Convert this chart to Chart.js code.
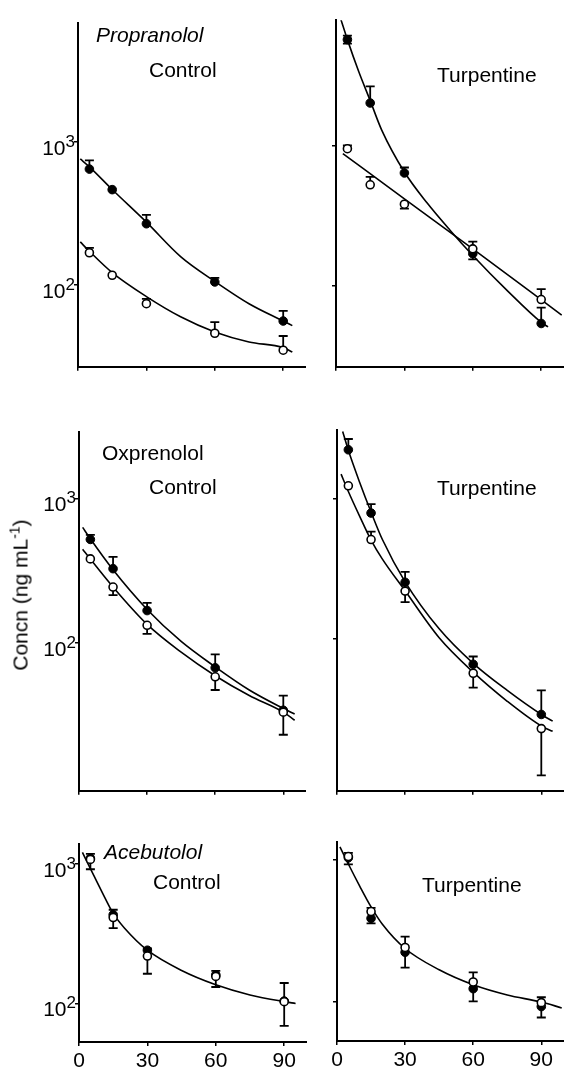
<!DOCTYPE html>
<html>
<head>
<meta charset="utf-8">
<script src="https://cdn.jsdelivr.net/npm/chart.js@4.4.0/dist/chart.umd.min.js"></script>
<style>
    body { margin: 0; background: #fff; }
    #fig { position: relative; width: 564px; height: 1067px; overflow: hidden;
           font-family: "Liberation Sans", Arial, sans-serif; color: #000; }
    #fig canvas { position: absolute; }
    .lab { position: absolute; font-size: 21px; line-height: 21px; white-space: nowrap; }
    .it { font-style: italic; }
    #ytitle { position: absolute; left: 20px; top: 595px; font-size: 21px; line-height: 21px;
              white-space: nowrap; transform: translate(-50%, -50%) rotate(-90deg); }
    #ytitle sup { font-size: 14px; vertical-align: 8px; line-height: 0; }
</style>
</head>
<body>
<div id="fig">
    <canvas id="p1"></canvas>
    <canvas id="p2"></canvas>
    <canvas id="p3"></canvas>
    <canvas id="p4"></canvas>
    <canvas id="p5"></canvas>
    <canvas id="p6"></canvas>

    <div class="lab it" style="left:96px;top:24px">Propranolol</div>
    <div class="lab" style="left:149px;top:59px">Control</div>
    <div class="lab" style="left:437px;top:64px">Turpentine</div>

    <div class="lab" style="left:102px;top:442px">Oxprenolol</div>
    <div class="lab" style="left:149px;top:476px">Control</div>
    <div class="lab" style="left:437px;top:477px">Turpentine</div>

    <div class="lab it" style="left:104px;top:841px">Acebutolol</div>
    <div class="lab" style="left:153px;top:871px">Control</div>
    <div class="lab" style="left:422px;top:874px">Turpentine</div>

    <div id="ytitle">Concn (ng mL<sup>-1</sup>)</div>
</div>

<script>
// sampling times (min) and axis ticks
const times = [5, 15, 30, 60, 90]
const yTicks = [100, 1000]
const yTickBases = ['10', '10']
const yTickExps = ['2', '3']
const xTicks = [0, 30, 60, 90]
const xTickLabels = ['0', '30', '60', '90']

// Propranolol - control
const propCtrlFilled = [646, 464, 268, 105, 56]
const propCtrlFilledHi = [742, null, 309, 112, 66]
const propCtrlOpen = [168, 117, 74, 46, 35]
const propCtrlOpenHi = [182, null, 80, 55, 44]
const propCtrlFitX = [1, 5, 15, 30, 45, 60, 75, 90, 94]
const propCtrlFitFilled = [760, 670, 465, 275, 158, 106, 74, 56, 52]
const propCtrlFitOpen = [200, 172, 122, 83, 60, 47, 40, 36.5, 34]

// Propranolol - turpentine
const propTurpFilled = [5720, 2020, 640, 170, 54]
const propTurpFilledHi = [6100, 2650, 700, null, 70]
const propTurpFilledLo = [5350, null, null, 155, null]
const propTurpOpen = [953, 527, 383, 184, 80]
const propTurpOpenHi = [1005, 600, null, 207, 95]
const propTurpOpenLo = [null, null, 356, null, null]
const propTurpFitFilledX = [2, 5, 10, 15, 20, 30, 40, 50, 60, 75, 90, 93]
const propTurpFitFilled = [8100, 5720, 3370, 2100, 1300, 650, 390, 250, 165, 93, 55, 51]
const propTurpFitOpenX = [3, 30, 60, 99]
const propTurpFitOpen = [880, 418, 184, 62]

// Oxprenolol - control
const oxCtrlFilled = [520, 326, 167, 67, 34]
const oxCtrlFilledHi = [560, 394, 189, 83, 43]
const oxCtrlOpen = [381, 243, 132, 58, 33]
const oxCtrlOpenLo = [null, 214, 115, 47, 23]
const oxCtrlFitX = [1.6, 5, 15, 30, 45, 60, 75, 90, 95]
const oxCtrlFitFilled = [630, 525, 320, 170, 102, 68, 47, 35, 32]
const oxCtrlFitOpen = [445, 380, 243, 134, 86, 59, 43, 33, 29]

// Oxprenolol - turpentine
const oxTurpFilled = [2220, 787, 253, 66, 29]
const oxTurpFilledHi = [2650, 910, 300, 75, 43]
const oxTurpOpen = [1230, 510, 219, 57, 23]
const oxTurpOpenHi = [null, 580, null, null, null]
const oxTurpOpenLo = [null, null, 183, 45, 10.7]
const oxTurpFitFilledX = [2.5, 5, 10, 15, 20, 30, 45, 60, 75, 90, 95]
const oxTurpFitFilled = [3000, 2200, 1300, 800, 510, 255, 118, 67, 43, 29, 26]
const oxTurpFitOpenX = [1.8, 5, 10, 15, 20, 30, 45, 60, 75, 90, 95]
const oxTurpFitOpen = [1490, 1120, 745, 505, 370, 220, 102, 58, 36, 24, 22]

// Acebutolol - control
const aceCtrlOpen = [1070, 411, 218, 156, 103]
const aceCtrlFilled = [1090, 430, 240, 160, 104]
const aceCtrlHi = [1170, 467, 247, 171, 140]
const aceCtrlLo = [910, 345, 163, 131, 69]
const aceCtrlFitX = [1.5, 5, 10, 15, 20, 30, 45, 60, 75, 90, 95]
const aceCtrlFit = [1200, 920, 630, 440, 345, 240, 172, 136, 115, 103, 100]

// Acebutolol - turpentine
const aceTurpOpen = [1050, 430, 240, 137, 98]
const aceTurpOpenHi = [1115, 457, 286, 160, 107]
const aceTurpFilled = [1030, 385, 222, 123, 92]
const aceTurpFilledLo = [925, 355, 173, 100, 77]
const aceTurpFitX = [1.3, 5, 10, 15, 20, 30, 45, 60, 75, 90, 99]
const aceTurpFit = [1230, 930, 650, 464, 350, 236, 167, 131, 111, 99, 90]

// plot rectangles in page pixels: left, right, top, bottom
const panels = [
    { id: 'p1', rect: [78, 306, 16, 369], yRange: [26.8, 6760], left: true, bottomRow: false,
      open: propCtrlOpen, openHi: propCtrlOpenHi, filled: propCtrlFilled, filledHi: propCtrlFilledHi,
      fits: [[propCtrlFitX, propCtrlFitFilled], [propCtrlFitX, propCtrlFitOpen]] },
    { id: 'p2', rect: [336, 564, 13, 369], yRange: [26.5, 7870], left: false, bottomRow: false,
      open: propTurpOpen, openHi: propTurpOpenHi, openLo: propTurpOpenLo,
      filled: propTurpFilled, filledHi: propTurpFilledHi, filledLo: propTurpFilledLo,
      fits: [[propTurpFitFilledX, propTurpFitFilled], [propTurpFitOpenX, propTurpFitOpen]] },
    { id: 'p3', rect: [79, 306, 425, 793], yRange: [9.4, 2880], left: true, bottomRow: false,
      open: oxCtrlOpen, openLo: oxCtrlOpenLo, filled: oxCtrlFilled, filledHi: oxCtrlFilledHi,
      fits: [[oxCtrlFitX, oxCtrlFitFilled], [oxCtrlFitX, oxCtrlFitOpen]] },
    { id: 'p4', rect: [337, 564, 423, 793], yRange: [8.3, 3060], left: false, bottomRow: false,
      open: oxTurpOpen, openHi: oxTurpOpenHi, openLo: oxTurpOpenLo, filled: oxTurpFilled, filledHi: oxTurpFilledHi,
      fits: [[oxTurpFitFilledX, oxTurpFitFilled], [oxTurpFitOpenX, oxTurpFitOpen]] },
    { id: 'p5', rect: [79, 307, 837, 1042], yRange: [53, 1374], left: true, bottomRow: true,
      open: aceCtrlOpen, openHi: aceCtrlHi, openLo: aceCtrlLo, filled: aceCtrlFilled,
      fits: [[aceCtrlFitX, aceCtrlFit]] },
    { id: 'p6', rect: [337, 564, 835, 1041], yRange: [52.6, 1325], left: false, bottomRow: true,
      open: aceTurpOpen, openHi: aceTurpOpenHi, filled: aceTurpFilled, filledLo: aceTurpFilledLo,
      fits: [[aceTurpFitX, aceTurpFit]] },
]

const fontFamily = "'Liberation Sans', Arial, sans-serif"
Chart.defaults.font.family = fontFamily
Chart.defaults.color = '#000'

// vertical error bars with a cap, drawn under the points
const errorBars = {
    id: 'errorBars',
    beforeDatasetsDraw(chart) {
        const ctx = chart.ctx
        const ys = chart.scales.y
        ctx.save()
        ctx.strokeStyle = '#000'
        ctx.lineWidth = 1.8
        chart.data.datasets.forEach((ds, i) => {
            const meta = chart.getDatasetMeta(i)
            ;[ds.errHi, ds.errLo].forEach(arr => {
                if (!arr) return
                meta.data.forEach((pt, j) => {
                    if (arr[j] == null) return
                    const y = ys.getPixelForValue(arr[j])
                    ctx.beginPath()
                    ctx.moveTo(pt.x, pt.y)
                    ctx.lineTo(pt.x, y)
                    ctx.moveTo(pt.x - 4.5, y)
                    ctx.lineTo(pt.x + 4.5, y)
                    ctx.stroke()
                })
            })
        })
        ctx.restore()
    }
}

// "10" with a raised exponent at each y tick
const powerLabels = {
    id: 'powerLabels',
    afterDraw(chart, args, opts) {
        if (!opts.show) return
        const ctx = chart.ctx
        const ys = chart.scales.y
        const xr = ys.right - 3
        ctx.save()
        ctx.fillStyle = '#000'
        ctx.textAlign = 'right'
        ctx.textBaseline = 'alphabetic'
        yTicks.forEach((v, i) => {
            const y = ys.getPixelForValue(v)
            ctx.font = '17px ' + fontFamily
            const ew = ctx.measureText(yTickExps[i]).width
            ctx.fillText(yTickExps[i], xr, y + 5)
            ctx.font = '21px ' + fontFamily
            ctx.fillText(yTickBases[i], xr - ew, y + 13)
        })
        ctx.restore()
    }
}

function pts(xs, ys) {
    return xs.map((x, i) => ({ x: x, y: ys[i] }))
}

function makePanel(p) {
    const [left, right, top, bottom] = p.rect
    const canvasLeft = p.left ? 0 : 317
    const canvasTop = top - 3
    const yW = left - canvasLeft
    const xH = p.bottomRow ? 1067 - bottom : 8
    const cv = document.getElementById(p.id)
    cv.width = right - canvasLeft
    cv.height = bottom - canvasTop + xH
    cv.style.left = canvasLeft + 'px'
    cv.style.top = canvasTop + 'px'

    const datasets = [
        {
            data: pts(times, p.open), errHi: p.openHi, errLo: p.openLo,
            pointRadius: 4, pointBackgroundColor: '#fff', pointBorderColor: '#000', pointBorderWidth: 1.6
        },
        {
            data: pts(times, p.filled), errHi: p.filledHi, errLo: p.filledLo,
            pointRadius: 4.3, pointBackgroundColor: '#000', pointBorderColor: '#000', pointBorderWidth: 1
        },
    ]
    for (const [fx, fy] of p.fits) {
        datasets.push({
            data: pts(fx, fy), showLine: true, pointRadius: 0, borderColor: '#000', borderWidth: 1.6,
            cubicInterpolationMode: 'monotone', fill: false
        })
    }

    new Chart(cv, {
        type: 'scatter',
        data: { datasets: datasets },
        plugins: [errorBars, powerLabels],
        options: {
            responsive: false,
            animation: false,
            events: [],
            layout: { autoPadding: false, padding: { top: 3, left: 0, right: 0, bottom: 0 } },
            plugins: {
                legend: { display: false },
                tooltip: { enabled: false },
                powerLabels: { show: p.left }
            },
            scales: {
                x: {
                    type: 'linear', min: 0, max: 100,
                    afterBuildTicks: s => { s.ticks = xTicks.map(v => ({ value: v })) },
                    afterFit: s => { s.height = xH },
                    ticks: {
                        padding: 3, maxRotation: 0, autoSkip: false,
                        font: { size: 21 },
                        callback: v => p.bottomRow ? xTickLabels[xTicks.indexOf(v)] : ''
                    },
                    grid: { drawOnChartArea: false, tickLength: 4, color: '#000', lineWidth: 1.5 },
                    border: { display: true, color: '#000', width: 2 }
                },
                y: {
                    type: 'logarithmic', min: p.yRange[0], max: p.yRange[1],
                    afterBuildTicks: s => { s.ticks = yTicks.map(v => ({ value: v })) },
                    afterFit: s => { s.width = yW },
                    ticks: { autoSkip: false, callback: () => '' },
                    grid: { drawOnChartArea: false, tickLength: 4, color: '#000', lineWidth: 1.5 },
                    border: { display: true, color: '#000', width: 2 }
                }
            }
        }
    })
}

panels.forEach(makePanel)
</script>
</body>
</html>
